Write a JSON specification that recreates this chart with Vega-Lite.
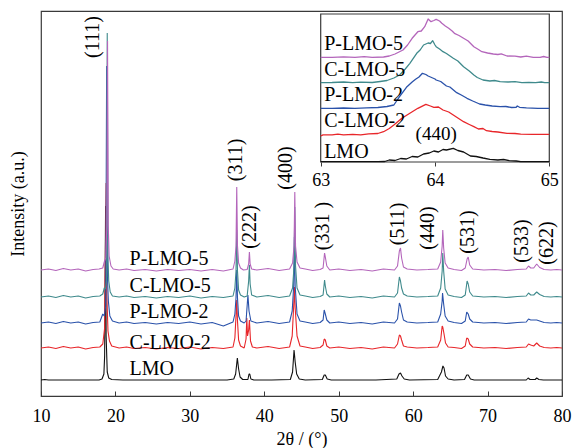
{
"$schema": "https://vega.github.io/schema/vega-lite/v6.json",
"width": 521, "height": 385,
"autosize": {"type": "none"},
"padding": {"left": 41, "top": 11, "right": 10, "bottom": 52},
"background": "white",
"config": {
  "font": "Liberation Serif",
  "view": {"stroke": "#3a3a3a", "strokeWidth": 1.2},
  "axis": {"labelFont": "Liberation Serif", "labelFontSize": 18, "labelColor": "black", "titleFont": "Liberation Serif", "titleFontSize": 18, "titleFontWeight": "normal", "titleColor": "black", "tickColor": "#3a3a3a", "grid": false, "labelFlush": false, "labelOverlap": false}
},
"datasets": {
"main": [
{"s":"LMO","x":10,"y":16},{"s":"LMO","x":10.5,"y":16.5},{"s":"LMO","x":11,"y":16},{"s":"LMO","x":12,"y":16},{"s":"LMO","x":14,"y":16},{"s":"LMO","x":16,"y":16},{"s":"LMO","x":17.8,"y":16},{"s":"LMO","x":18.2,"y":17},{"s":"LMO","x":18.45,"y":22},{"s":"LMO","x":18.55,"y":40},{"s":"LMO","x":18.68,"y":190},{"s":"LMO","x":18.75,"y":60},{"s":"LMO","x":18.9,"y":24},{"s":"LMO","x":19.1,"y":18},{"s":"LMO","x":19.5,"y":16.5},{"s":"LMO","x":21,"y":16},{"s":"LMO","x":25,"y":16},{"s":"LMO","x":30,"y":16},{"s":"LMO","x":35,"y":16},{"s":"LMO","x":35.9,"y":17},{"s":"LMO","x":36.15,"y":22},{"s":"LMO","x":36.38,"y":38},{"s":"LMO","x":36.55,"y":27},{"s":"LMO","x":36.75,"y":19},{"s":"LMO","x":37.1,"y":16.5},{"s":"LMO","x":37.8,"y":16.5},{"s":"LMO","x":37.95,"y":22},{"s":"LMO","x":38.05,"y":22},{"s":"LMO","x":38.2,"y":17},{"s":"LMO","x":38.6,"y":16},{"s":"LMO","x":41,"y":16},{"s":"LMO","x":43.5,"y":16.5},{"s":"LMO","x":43.8,"y":24},{"s":"LMO","x":44.0,"y":46},{"s":"LMO","x":44.15,"y":34},{"s":"LMO","x":44.35,"y":22},{"s":"LMO","x":44.7,"y":17},{"s":"LMO","x":45.5,"y":16},{"s":"LMO","x":47.8,"y":16.5},{"s":"LMO","x":48.05,"y":21},{"s":"LMO","x":48.2,"y":21},{"s":"LMO","x":48.45,"y":17},{"s":"LMO","x":49,"y":16},{"s":"LMO","x":55,"y":16},{"s":"LMO","x":57.8,"y":17},{"s":"LMO","x":58.1,"y":22},{"s":"LMO","x":58.3,"y":23},{"s":"LMO","x":58.5,"y":20},{"s":"LMO","x":58.8,"y":17},{"s":"LMO","x":59.5,"y":16},{"s":"LMO","x":63.3,"y":16.5},{"s":"LMO","x":63.8,"y":24},{"s":"LMO","x":64.0,"y":30},{"s":"LMO","x":64.15,"y":28},{"s":"LMO","x":64.35,"y":20},{"s":"LMO","x":64.7,"y":17},{"s":"LMO","x":65.5,"y":16},{"s":"LMO","x":66.9,"y":16.5},{"s":"LMO","x":67.2,"y":21},{"s":"LMO","x":67.4,"y":21},{"s":"LMO","x":67.7,"y":17},{"s":"LMO","x":68.2,"y":16},{"s":"LMO","x":75.2,"y":16},{"s":"LMO","x":75.45,"y":18},{"s":"LMO","x":75.7,"y":16.5},{"s":"LMO","x":76.4,"y":16.5},{"s":"LMO","x":76.6,"y":18},{"s":"LMO","x":76.9,"y":16.5},{"s":"LMO","x":77.5,"y":16},{"s":"LMO","x":80,"y":16},

{"s":"C2","x":10,"y":48},{"s":"C2","x":11,"y":49},{"s":"C2","x":12,"y":47.5},{"s":"C2","x":13,"y":49.5},{"s":"C2","x":14,"y":48},{"s":"C2","x":15,"y":49},{"s":"C2","x":16,"y":47},{"s":"C2","x":17,"y":48.5},{"s":"C2","x":17.9,"y":49},{"s":"C2","x":18.3,"y":52},{"s":"C2","x":18.55,"y":68},{"s":"C2","x":18.75,"y":213},{"s":"C2","x":18.85,"y":100},{"s":"C2","x":19.0,"y":65},{"s":"C2","x":19.2,"y":55},{"s":"C2","x":19.5,"y":50},{"s":"C2","x":20.5,"y":48},{"s":"C2","x":21.5,"y":49},{"s":"C2","x":22.5,"y":47.5},{"s":"C2","x":24,"y":48.5},{"s":"C2","x":25.5,"y":47},{"s":"C2","x":27,"y":48.5},{"s":"C2","x":28.5,"y":47.5},{"s":"C2","x":30,"y":49},{"s":"C2","x":31.5,"y":47},{"s":"C2","x":33,"y":48.5},{"s":"C2","x":34.5,"y":47.5},{"s":"C2","x":35.8,"y":49},{"s":"C2","x":36.05,"y":58},{"s":"C2","x":36.2,"y":80},{"s":"C2","x":36.3,"y":96},{"s":"C2","x":36.4,"y":75},{"s":"C2","x":36.55,"y":56},{"s":"C2","x":36.8,"y":50},{"s":"C2","x":37.3,"y":48},{"s":"C2","x":37.55,"y":57},{"s":"C2","x":37.65,"y":78},{"s":"C2","x":37.75,"y":60},{"s":"C2","x":37.9,"y":66},{"s":"C2","x":38.0,"y":76},{"s":"C2","x":38.15,"y":55},{"s":"C2","x":38.4,"y":49},{"s":"C2","x":39,"y":48},{"s":"C2","x":40.5,"y":49.5},{"s":"C2","x":42,"y":47.5},{"s":"C2","x":43.4,"y":49},{"s":"C2","x":43.75,"y":60},{"s":"C2","x":43.95,"y":90},{"s":"C2","x":44.05,"y":109},{"s":"C2","x":44.15,"y":88},{"s":"C2","x":44.4,"y":60},{"s":"C2","x":44.8,"y":50},{"s":"C2","x":45.5,"y":49},{"s":"C2","x":46.5,"y":47.5},{"s":"C2","x":47.5,"y":48.5},{"s":"C2","x":47.9,"y":51},{"s":"C2","x":48.05,"y":57},{"s":"C2","x":48.2,"y":56},{"s":"C2","x":48.4,"y":50},{"s":"C2","x":48.8,"y":48},{"s":"C2","x":50,"y":49},{"s":"C2","x":51.5,"y":47.5},{"s":"C2","x":53,"y":48.5},{"s":"C2","x":54.5,"y":47},{"s":"C2","x":56,"y":49},{"s":"C2","x":57.5,"y":48},{"s":"C2","x":57.9,"y":52},{"s":"C2","x":58.15,"y":61},{"s":"C2","x":58.3,"y":60},{"s":"C2","x":58.45,"y":56},{"s":"C2","x":58.7,"y":50},{"s":"C2","x":59.2,"y":49},{"s":"C2","x":60.5,"y":48},{"s":"C2","x":62,"y":48.5},{"s":"C2","x":63.3,"y":49},{"s":"C2","x":63.7,"y":56},{"s":"C2","x":63.9,"y":70},{"s":"C2","x":63.98,"y":69},{"s":"C2","x":64.15,"y":62},{"s":"C2","x":64.35,"y":53},{"s":"C2","x":64.7,"y":49},{"s":"C2","x":65.5,"y":48.5},{"s":"C2","x":66.5,"y":47.5},{"s":"C2","x":67.0,"y":50},{"s":"C2","x":67.2,"y":58},{"s":"C2","x":67.4,"y":57},{"s":"C2","x":67.6,"y":52},{"s":"C2","x":68,"y":49},{"s":"C2","x":69.5,"y":48},{"s":"C2","x":71,"y":48.5},{"s":"C2","x":72.5,"y":47.5},{"s":"C2","x":74,"y":48.5},{"s":"C2","x":75.2,"y":49},{"s":"C2","x":75.5,"y":52},{"s":"C2","x":75.8,"y":51},{"s":"C2","x":76.2,"y":50},{"s":"C2","x":76.6,"y":53},{"s":"C2","x":77,"y":50},{"s":"C2","x":77.6,"y":48.5},{"s":"C2","x":78.5,"y":48},{"s":"C2","x":79.3,"y":48.5},{"s":"C2","x":80,"y":48},

{"s":"P2","x":10,"y":73},{"s":"P2","x":11,"y":74},{"s":"P2","x":12,"y":72.5},{"s":"P2","x":13,"y":74.5},{"s":"P2","x":14,"y":73},{"s":"P2","x":15,"y":74},{"s":"P2","x":16,"y":72},{"s":"P2","x":17,"y":73.5},{"s":"P2","x":17.9,"y":74},{"s":"P2","x":18.3,"y":82},{"s":"P2","x":18.5,"y":80},{"s":"P2","x":18.7,"y":90},{"s":"P2","x":18.82,"y":330},{"s":"P2","x":18.92,"y":120},{"s":"P2","x":19.05,"y":95},{"s":"P2","x":19.25,"y":80},{"s":"P2","x":19.6,"y":75},{"s":"P2","x":20.5,"y":73},{"s":"P2","x":21.5,"y":74},{"s":"P2","x":22.5,"y":72.5},{"s":"P2","x":24,"y":73.5},{"s":"P2","x":25.5,"y":72},{"s":"P2","x":27,"y":73.5},{"s":"P2","x":28.5,"y":72.5},{"s":"P2","x":30,"y":74},{"s":"P2","x":31.5,"y":72},{"s":"P2","x":33,"y":73.5},{"s":"P2","x":34.5,"y":70},{"s":"P2","x":35.8,"y":74},{"s":"P2","x":36.05,"y":82},{"s":"P2","x":36.2,"y":98},{"s":"P2","x":36.3,"y":126},{"s":"P2","x":36.4,"y":98},{"s":"P2","x":36.55,"y":80},{"s":"P2","x":36.8,"y":75},{"s":"P2","x":37.3,"y":73},{"s":"P2","x":37.55,"y":75},{"s":"P2","x":37.8,"y":101},{"s":"P2","x":37.95,"y":85},{"s":"P2","x":38.2,"y":75},{"s":"P2","x":39,"y":73},{"s":"P2","x":40.5,"y":74.5},{"s":"P2","x":42,"y":72.5},{"s":"P2","x":43.4,"y":74},{"s":"P2","x":43.75,"y":85},{"s":"P2","x":43.95,"y":110},{"s":"P2","x":44.05,"y":159},{"s":"P2","x":44.15,"y":110},{"s":"P2","x":44.4,"y":82},{"s":"P2","x":44.8,"y":75},{"s":"P2","x":45.5,"y":74},{"s":"P2","x":46.5,"y":72.5},{"s":"P2","x":47.5,"y":73.5},{"s":"P2","x":47.9,"y":76},{"s":"P2","x":48.05,"y":86},{"s":"P2","x":48.2,"y":82},{"s":"P2","x":48.4,"y":76},{"s":"P2","x":48.8,"y":73},{"s":"P2","x":50,"y":74},{"s":"P2","x":51.5,"y":72.5},{"s":"P2","x":53,"y":73.5},{"s":"P2","x":54.5,"y":72},{"s":"P2","x":56,"y":74},{"s":"P2","x":57.5,"y":73},{"s":"P2","x":57.9,"y":77},{"s":"P2","x":58.15,"y":93},{"s":"P2","x":58.3,"y":90},{"s":"P2","x":58.45,"y":84},{"s":"P2","x":58.7,"y":76},{"s":"P2","x":59.2,"y":74},{"s":"P2","x":60.5,"y":73},{"s":"P2","x":62,"y":73.5},{"s":"P2","x":63.3,"y":74},{"s":"P2","x":63.7,"y":82},{"s":"P2","x":63.9,"y":95},{"s":"P2","x":63.95,"y":103},{"s":"P2","x":64.1,"y":92},{"s":"P2","x":64.3,"y":80},{"s":"P2","x":64.7,"y":75},{"s":"P2","x":65.5,"y":73.5},{"s":"P2","x":66.5,"y":72.5},{"s":"P2","x":67.0,"y":75},{"s":"P2","x":67.2,"y":84},{"s":"P2","x":67.4,"y":82},{"s":"P2","x":67.6,"y":77},{"s":"P2","x":68,"y":74},{"s":"P2","x":69.5,"y":73},{"s":"P2","x":71,"y":73.5},{"s":"P2","x":72.5,"y":72.5},{"s":"P2","x":74,"y":73.5},{"s":"P2","x":75.2,"y":74},{"s":"P2","x":75.5,"y":77},{"s":"P2","x":75.8,"y":76},{"s":"P2","x":76.2,"y":76},{"s":"P2","x":76.6,"y":76},{"s":"P2","x":77,"y":75},{"s":"P2","x":77.6,"y":73.5},{"s":"P2","x":78.5,"y":73},{"s":"P2","x":79.3,"y":73.5},{"s":"P2","x":80,"y":73},

{"s":"C5","x":10,"y":99},{"s":"C5","x":11,"y":100},{"s":"C5","x":12,"y":98.5},{"s":"C5","x":13,"y":100.5},{"s":"C5","x":14,"y":99},{"s":"C5","x":15,"y":100},{"s":"C5","x":16,"y":98},{"s":"C5","x":17,"y":99.5},{"s":"C5","x":17.9,"y":100},{"s":"C5","x":18.3,"y":102},{"s":"C5","x":18.5,"y":108},{"s":"C5","x":18.65,"y":107},{"s":"C5","x":18.8,"y":115},{"s":"C5","x":18.9,"y":363},{"s":"C5","x":19.0,"y":140},{"s":"C5","x":19.1,"y":115},{"s":"C5","x":19.3,"y":104},{"s":"C5","x":19.6,"y":100},{"s":"C5","x":20.5,"y":99},{"s":"C5","x":21.5,"y":100},{"s":"C5","x":22.5,"y":98.5},{"s":"C5","x":24,"y":99.5},{"s":"C5","x":25.5,"y":98},{"s":"C5","x":27,"y":99.5},{"s":"C5","x":28.5,"y":98.5},{"s":"C5","x":30,"y":100},{"s":"C5","x":31.5,"y":98},{"s":"C5","x":33,"y":99.5},{"s":"C5","x":34.5,"y":98.5},{"s":"C5","x":35.8,"y":100},{"s":"C5","x":36.05,"y":108},{"s":"C5","x":36.2,"y":125},{"s":"C5","x":36.3,"y":166},{"s":"C5","x":36.4,"y":125},{"s":"C5","x":36.55,"y":106},{"s":"C5","x":36.8,"y":101},{"s":"C5","x":37.3,"y":99},{"s":"C5","x":37.7,"y":100},{"s":"C5","x":37.9,"y":115},{"s":"C5","x":38.0,"y":131},{"s":"C5","x":38.1,"y":112},{"s":"C5","x":38.3,"y":101},{"s":"C5","x":39,"y":99},{"s":"C5","x":40.5,"y":100.5},{"s":"C5","x":42,"y":98.5},{"s":"C5","x":43.4,"y":100},{"s":"C5","x":43.8,"y":108},{"s":"C5","x":44.0,"y":130},{"s":"C5","x":44.1,"y":189},{"s":"C5","x":44.2,"y":130},{"s":"C5","x":44.4,"y":108},{"s":"C5","x":44.8,"y":101},{"s":"C5","x":45.5,"y":100},{"s":"C5","x":46.5,"y":98.5},{"s":"C5","x":47.5,"y":99.5},{"s":"C5","x":47.9,"y":101},{"s":"C5","x":48.1,"y":116},{"s":"C5","x":48.2,"y":110},{"s":"C5","x":48.4,"y":102},{"s":"C5","x":48.8,"y":99},{"s":"C5","x":50,"y":100},{"s":"C5","x":51.5,"y":98.5},{"s":"C5","x":53,"y":99.5},{"s":"C5","x":54.5,"y":98},{"s":"C5","x":56,"y":100},{"s":"C5","x":57.5,"y":99},{"s":"C5","x":57.9,"y":103},{"s":"C5","x":58.15,"y":119},{"s":"C5","x":58.3,"y":115},{"s":"C5","x":58.45,"y":108},{"s":"C5","x":58.7,"y":102},{"s":"C5","x":59.2,"y":100},{"s":"C5","x":60.5,"y":99},{"s":"C5","x":62,"y":99.5},{"s":"C5","x":63.3,"y":100},{"s":"C5","x":63.7,"y":108},{"s":"C5","x":63.9,"y":125},{"s":"C5","x":63.98,"y":143},{"s":"C5","x":64.1,"y":125},{"s":"C5","x":64.3,"y":107},{"s":"C5","x":64.7,"y":101},{"s":"C5","x":65.5,"y":99.5},{"s":"C5","x":66.5,"y":98.5},{"s":"C5","x":67.0,"y":101},{"s":"C5","x":67.25,"y":115},{"s":"C5","x":67.4,"y":112},{"s":"C5","x":67.6,"y":104},{"s":"C5","x":68,"y":100},{"s":"C5","x":69.5,"y":99},{"s":"C5","x":71,"y":99.5},{"s":"C5","x":72.5,"y":98.5},{"s":"C5","x":74,"y":99.5},{"s":"C5","x":75.2,"y":100},{"s":"C5","x":75.5,"y":103},{"s":"C5","x":75.8,"y":101},{"s":"C5","x":76.2,"y":101},{"s":"C5","x":76.6,"y":104},{"s":"C5","x":77,"y":101.5},{"s":"C5","x":77.6,"y":99.5},{"s":"C5","x":78.5,"y":99},{"s":"C5","x":79.3,"y":99.5},{"s":"C5","x":80,"y":99},

{"s":"P5","x":10,"y":126},{"s":"P5","x":11,"y":127},{"s":"P5","x":12,"y":125.5},{"s":"P5","x":13,"y":127.5},{"s":"P5","x":14,"y":126},{"s":"P5","x":15,"y":127},{"s":"P5","x":16,"y":125},{"s":"P5","x":17,"y":126.5},{"s":"P5","x":17.8,"y":127},{"s":"P5","x":18.3,"y":128},{"s":"P5","x":18.5,"y":134},{"s":"P5","x":18.7,"y":138},{"s":"P5","x":18.84,"y":170},{"s":"P5","x":18.94,"y":355},{"s":"P5","x":19.04,"y":170},{"s":"P5","x":19.15,"y":140},{"s":"P5","x":19.4,"y":130},{"s":"P5","x":19.7,"y":127},{"s":"P5","x":20.5,"y":126},{"s":"P5","x":21.5,"y":127},{"s":"P5","x":22.5,"y":125.5},{"s":"P5","x":24,"y":126.5},{"s":"P5","x":25.5,"y":125},{"s":"P5","x":27,"y":126.5},{"s":"P5","x":28.5,"y":125.5},{"s":"P5","x":30,"y":126.5},{"s":"P5","x":31.5,"y":125},{"s":"P5","x":33,"y":126.5},{"s":"P5","x":34.5,"y":125},{"s":"P5","x":35.8,"y":127},{"s":"P5","x":36.05,"y":135},{"s":"P5","x":36.2,"y":150},{"s":"P5","x":36.3,"y":209},{"s":"P5","x":36.4,"y":150},{"s":"P5","x":36.55,"y":133},{"s":"P5","x":36.8,"y":128},{"s":"P5","x":37.2,"y":126},{"s":"P5","x":37.7,"y":126.5},{"s":"P5","x":37.9,"y":132},{"s":"P5","x":38.0,"y":144},{"s":"P5","x":38.1,"y":132},{"s":"P5","x":38.3,"y":127},{"s":"P5","x":39,"y":126},{"s":"P5","x":40.5,"y":127.5},{"s":"P5","x":42,"y":125.5},{"s":"P5","x":43.4,"y":127},{"s":"P5","x":43.8,"y":133},{"s":"P5","x":44.0,"y":150},{"s":"P5","x":44.1,"y":204},{"s":"P5","x":44.2,"y":150},{"s":"P5","x":44.4,"y":134},{"s":"P5","x":44.8,"y":128},{"s":"P5","x":45.5,"y":127},{"s":"P5","x":46.5,"y":125.5},{"s":"P5","x":47.5,"y":126.5},{"s":"P5","x":47.9,"y":128},{"s":"P5","x":48.1,"y":143},{"s":"P5","x":48.2,"y":139},{"s":"P5","x":48.4,"y":130},{"s":"P5","x":48.8,"y":126},{"s":"P5","x":50,"y":127},{"s":"P5","x":51.5,"y":125.5},{"s":"P5","x":53,"y":126.5},{"s":"P5","x":54.5,"y":125},{"s":"P5","x":56,"y":127},{"s":"P5","x":57.5,"y":126},{"s":"P5","x":57.9,"y":130},{"s":"P5","x":58.15,"y":145},{"s":"P5","x":58.3,"y":148},{"s":"P5","x":58.45,"y":138},{"s":"P5","x":58.7,"y":129},{"s":"P5","x":59.2,"y":127},{"s":"P5","x":60.5,"y":126},{"s":"P5","x":62,"y":126.5},{"s":"P5","x":63.3,"y":127},{"s":"P5","x":63.7,"y":134},{"s":"P5","x":63.9,"y":150},{"s":"P5","x":63.98,"y":166},{"s":"P5","x":64.1,"y":148},{"s":"P5","x":64.3,"y":133},{"s":"P5","x":64.7,"y":128},{"s":"P5","x":65.5,"y":126.5},{"s":"P5","x":66.5,"y":125.5},{"s":"P5","x":67.0,"y":128},{"s":"P5","x":67.25,"y":137},{"s":"P5","x":67.4,"y":139},{"s":"P5","x":67.6,"y":131},{"s":"P5","x":68,"y":127},{"s":"P5","x":69.5,"y":126},{"s":"P5","x":71,"y":126.5},{"s":"P5","x":72.5,"y":125.5},{"s":"P5","x":74,"y":126.5},{"s":"P5","x":75.2,"y":127},{"s":"P5","x":75.5,"y":130},{"s":"P5","x":75.8,"y":128},{"s":"P5","x":76.2,"y":128},{"s":"P5","x":76.6,"y":132},{"s":"P5","x":77,"y":128.5},{"s":"P5","x":77.6,"y":126.5},{"s":"P5","x":78.5,"y":126},{"s":"P5","x":79.3,"y":126.5},{"s":"P5","x":80,"y":126}
],
"inset": [
{"s":"LMO","x":63.0,"y":0.3},{"s":"LMO","x":63.5,"y":0.3},{"s":"LMO","x":63.56,"y":0.5},{"s":"LMO","x":63.6,"y":2},{"s":"LMO","x":63.65,"y":1.5},{"s":"LMO","x":63.7,"y":3.5},{"s":"LMO","x":63.75,"y":3},{"s":"LMO","x":63.8,"y":5.5},{"s":"LMO","x":63.85,"y":5},{"s":"LMO","x":63.9,"y":8},{"s":"LMO","x":63.95,"y":9},{"s":"LMO","x":63.99,"y":11},{"s":"LMO","x":64.03,"y":10},{"s":"LMO","x":64.07,"y":12.5},{"s":"LMO","x":64.1,"y":12},{"s":"LMO","x":64.16,"y":13.7},{"s":"LMO","x":64.2,"y":11.5},{"s":"LMO","x":64.25,"y":10},{"s":"LMO","x":64.31,"y":6},{"s":"LMO","x":64.36,"y":5.5},{"s":"LMO","x":64.42,"y":4},{"s":"LMO","x":64.48,"y":2.7},{"s":"LMO","x":64.55,"y":2},{"s":"LMO","x":64.6,"y":2.5},{"s":"LMO","x":64.65,"y":1.3},{"s":"LMO","x":64.71,"y":1},{"s":"LMO","x":64.75,"y":0.3},{"s":"LMO","x":65.0,"y":0.3},

{"s":"C2","x":63.0,"y":26},{"s":"C2","x":63.02,"y":27.2},{"s":"C2","x":63.1,"y":27.2},{"s":"C2","x":63.15,"y":27.8},{"s":"C2","x":63.2,"y":27.2},{"s":"C2","x":63.28,"y":27.7},{"s":"C2","x":63.35,"y":27.2},{"s":"C2","x":63.42,"y":28.2},{"s":"C2","x":63.5,"y":28.5},{"s":"C2","x":63.55,"y":30.3},{"s":"C2","x":63.6,"y":33.5},{"s":"C2","x":63.64,"y":37},{"s":"C2","x":63.71,"y":43.7},{"s":"C2","x":63.78,"y":48.7},{"s":"C2","x":63.85,"y":53.7},{"s":"C2","x":63.92,"y":57.7},{"s":"C2","x":63.96,"y":56},{"s":"C2","x":63.99,"y":54.7},{"s":"C2","x":64.03,"y":55},{"s":"C2","x":64.07,"y":52},{"s":"C2","x":64.12,"y":50},{"s":"C2","x":64.16,"y":47},{"s":"C2","x":64.2,"y":44},{"s":"C2","x":64.25,"y":40.3},{"s":"C2","x":64.3,"y":37.5},{"s":"C2","x":64.34,"y":35.3},{"s":"C2","x":64.38,"y":33},{"s":"C2","x":64.42,"y":33.5},{"s":"C2","x":64.45,"y":31.3},{"s":"C2","x":64.5,"y":30.5},{"s":"C2","x":64.55,"y":30},{"s":"C2","x":64.63,"y":28.7},{"s":"C2","x":64.7,"y":28.5},{"s":"C2","x":64.75,"y":27.8},{"s":"C2","x":64.85,"y":27.7},{"s":"C2","x":64.95,"y":27.7},{"s":"C2","x":65.0,"y":27.7},

{"s":"P2","x":63.0,"y":53.7},{"s":"P2","x":63.1,"y":53.7},{"s":"P2","x":63.2,"y":54},{"s":"P2","x":63.3,"y":53.7},{"s":"P2","x":63.4,"y":54.2},{"s":"P2","x":63.5,"y":54.5},{"s":"P2","x":63.58,"y":55.5},{"s":"P2","x":63.64,"y":57},{"s":"P2","x":63.69,"y":65.3},{"s":"P2","x":63.75,"y":74.7},{"s":"P2","x":63.8,"y":80},{"s":"P2","x":63.83,"y":82.7},{"s":"P2","x":63.86,"y":85},{"s":"P2","x":63.89,"y":88.7},{"s":"P2","x":63.92,"y":87.5},{"s":"P2","x":63.94,"y":86},{"s":"P2","x":63.97,"y":84.5},{"s":"P2","x":64.0,"y":83},{"s":"P2","x":64.01,"y":82},{"s":"P2","x":64.05,"y":80.5},{"s":"P2","x":64.1,"y":76},{"s":"P2","x":64.13,"y":75},{"s":"P2","x":64.19,"y":69.3},{"s":"P2","x":64.23,"y":67},{"s":"P2","x":64.28,"y":63.7},{"s":"P2","x":64.33,"y":61},{"s":"P2","x":64.39,"y":58},{"s":"P2","x":64.44,"y":57},{"s":"P2","x":64.5,"y":56},{"s":"P2","x":64.57,"y":55.3},{"s":"P2","x":64.62,"y":55.5},{"s":"P2","x":64.67,"y":54.5},{"s":"P2","x":64.71,"y":54.7},{"s":"P2","x":64.72,"y":56},{"s":"P2","x":64.74,"y":54.7},{"s":"P2","x":64.8,"y":54.2},{"s":"P2","x":64.9,"y":53.7},{"s":"P2","x":65.0,"y":53.7},

{"s":"C5","x":63.0,"y":79.3},{"s":"C5","x":63.1,"y":79.5},{"s":"C5","x":63.2,"y":80},{"s":"C5","x":63.28,"y":79.3},{"s":"C5","x":63.35,"y":79.8},{"s":"C5","x":63.45,"y":79.5},{"s":"C5","x":63.52,"y":80.5},{"s":"C5","x":63.58,"y":81.5},{"s":"C5","x":63.64,"y":84},{"s":"C5","x":63.69,"y":87},{"s":"C5","x":63.74,"y":93},{"s":"C5","x":63.78,"y":98.7},{"s":"C5","x":63.84,"y":108.7},{"s":"C5","x":63.87,"y":112},{"s":"C5","x":63.9,"y":117},{"s":"C5","x":63.94,"y":119},{"s":"C5","x":63.96,"y":118.5},{"s":"C5","x":63.98,"y":121.3},{"s":"C5","x":64.0,"y":117},{"s":"C5","x":64.01,"y":115.3},{"s":"C5","x":64.04,"y":113},{"s":"C5","x":64.07,"y":110.3},{"s":"C5","x":64.1,"y":108.5},{"s":"C5","x":64.16,"y":103.7},{"s":"C5","x":64.2,"y":101},{"s":"C5","x":64.25,"y":95.3},{"s":"C5","x":64.3,"y":91},{"s":"C5","x":64.34,"y":87},{"s":"C5","x":64.37,"y":84.5},{"s":"C5","x":64.42,"y":82},{"s":"C5","x":64.48,"y":81},{"s":"C5","x":64.52,"y":81.5},{"s":"C5","x":64.57,"y":80.3},{"s":"C5","x":64.64,"y":80},{"s":"C5","x":64.7,"y":80.3},{"s":"C5","x":64.76,"y":79.3},{"s":"C5","x":64.82,"y":79.7},{"s":"C5","x":64.88,"y":79.3},{"s":"C5","x":64.93,"y":80},{"s":"C5","x":64.96,"y":79.3},{"s":"C5","x":65.0,"y":79.3},

{"s":"P5","x":63.0,"y":104.7},{"s":"P5","x":63.1,"y":104.7},{"s":"P5","x":63.2,"y":105.2},{"s":"P5","x":63.3,"y":104.7},{"s":"P5","x":63.38,"y":105.3},{"s":"P5","x":63.45,"y":104.7},{"s":"P5","x":63.55,"y":105},{"s":"P5","x":63.6,"y":106},{"s":"P5","x":63.65,"y":108},{"s":"P5","x":63.72,"y":112},{"s":"P5","x":63.76,"y":117},{"s":"P5","x":63.8,"y":123.7},{"s":"P5","x":63.85,"y":130.3},{"s":"P5","x":63.88,"y":131},{"s":"P5","x":63.91,"y":135.3},{"s":"P5","x":63.94,"y":143},{"s":"P5","x":63.965,"y":140.3},{"s":"P5","x":63.99,"y":141.5},{"s":"P5","x":64.01,"y":142.7},{"s":"P5","x":64.04,"y":141},{"s":"P5","x":64.06,"y":138.7},{"s":"P5","x":64.09,"y":136},{"s":"P5","x":64.12,"y":133.7},{"s":"P5","x":64.15,"y":131},{"s":"P5","x":64.17,"y":128.7},{"s":"P5","x":64.21,"y":126.5},{"s":"P5","x":64.25,"y":123.7},{"s":"P5","x":64.29,"y":121},{"s":"P5","x":64.34,"y":115.3},{"s":"P5","x":64.38,"y":112.5},{"s":"P5","x":64.41,"y":110.3},{"s":"P5","x":64.46,"y":109},{"s":"P5","x":64.51,"y":108},{"s":"P5","x":64.55,"y":107.5},{"s":"P5","x":64.58,"y":108.2},{"s":"P5","x":64.63,"y":106},{"s":"P5","x":64.7,"y":105.8},{"s":"P5","x":64.75,"y":105},{"s":"P5","x":64.8,"y":105.8},{"s":"P5","x":64.86,"y":104.7},{"s":"P5","x":64.92,"y":104.7},{"s":"P5","x":64.95,"y":105.5},{"s":"P5","x":64.98,"y":104.7},{"s":"P5","x":65.0,"y":104.7}
],
"mainlab": [
{"t":"LMO","x":21.9,"y":21},{"t":"C-LMO-2","x":21.9,"y":47},{"t":"P-LMO-2","x":21.9,"y":78},{"t":"C-LMO-5","x":21.9,"y":104},{"t":"P-LMO-5","x":21.9,"y":131}
],
"peaks": [
{"t":"(111)","x":17.0,"y":359},{"t":"(311)","x":36.17,"y":236},{"t":"(222)","x":38.09,"y":169},{"t":"(400)","x":42.93,"y":228},{"t":"(331 )","x":47.9,"y":170},{"t":"(511)","x":57.98,"y":172},{"t":"(440)","x":62.02,"y":168},{"t":"(531)","x":67.39,"y":164},{"t":"(533)","x":74.65,"y":155},{"t":"(622)","x":78.01,"y":153}
],
"insetlab": [
{"t":"LMO","x":63.03,"y":3.7},{"t":"C-LMO-2","x":63.03,"y":35.3},{"t":"P-LMO-2","x":63.03,"y":61},{"t":"C-LMO-5","x":63.03,"y":86},{"t":"P-LMO-5","x":63.03,"y":112.5}
]
},
"layer": [
 {"layer": [
  {"data": {"name": "main"},
   "mark": {"type": "line", "strokeWidth": 1.1, "strokeJoin": "bevel"},
   "encoding": {
    "x": {"field": "x", "type": "quantitative", "scale": {"domain": [10, 80], "nice": false, "zero": false},
          "axis": {"values": [10,20,30,40,50,60,70,80], "domain": false, "tickSize": -5, "labelPadding": 16, "title": "2θ / (°)", "titleBaseline": "alphabetic", "titleY": 48, "titleX": 260.5}},
    "y": {"field": "y", "type": "quantitative", "scale": {"domain": [0, 385], "nice": false, "zero": false},
          "axis": {"ticks": false, "labels": false, "domain": false, "title": "Intensity (a.u.)", "titleX": -23, "titleY": 192.5, "titleBaseline": "middle", "titleAngle": 270}},
    "color": {"field": "s", "type": "nominal", "scale": {"domain": ["LMO","C2","P2","C5","P5"], "range": ["#111111","#e8262a","#2a52aa","#3f8a8c","#b466bb"]}, "legend": null}
   }},
  {"data": {"name": "mainlab"},
   "mark": {"type": "text", "align": "left", "baseline": "alphabetic", "fontSize": 20, "color": "black"},
   "encoding": {
    "x": {"field": "x", "type": "quantitative"},
    "y": {"field": "y", "type": "quantitative"},
    "text": {"field": "t"}
   }},
  {"data": {"name": "peaks"},
   "mark": {"type": "text", "align": "center", "baseline": "middle", "angle": 270, "fontSize": 20, "color": "black"},
   "encoding": {
    "x": {"field": "x", "type": "quantitative"},
    "y": {"field": "y", "type": "quantitative"},
    "text": {"field": "t"}
   }}
 ]},
 {"layer": [
  {"data": {"values": [{}]},
   "mark": {"type": "rect", "fill": "white", "stroke": "#3a3a3a", "strokeWidth": 1.2},
   "encoding": {
    "x": {"datum": 63, "type": "quantitative", "scale": {"domain": [63, 65], "range": [279.7, 508.3], "nice": false, "zero": false},
          "axis": {"orient": "bottom", "offset": -234, "values": [63, 64, 65], "labelExpr": "round(datum.value)", "labelOverlap": false, "labelBound": false, "domain": false, "tickSize": 4, "labelPadding": 5, "title": null}},
    "x2": {"datum": 65},
    "y": {"datum": 0, "type": "quantitative", "scale": {"domain": [0, 148], "range": [151, 3], "nice": false, "zero": false}, "axis": null},
    "y2": {"datum": 148}
   }},
  {"data": {"name": "inset"},
   "mark": {"type": "line", "strokeWidth": 1.3, "strokeJoin": "round"},
   "encoding": {
    "x": {"field": "x", "type": "quantitative", "axis": {"orient": "bottom", "offset": -234, "values": [63, 64, 65], "labelExpr": "round(datum.value)", "labelOverlap": false, "labelBound": false, "domain": false, "tickSize": 4, "labelPadding": 5, "title": null}},
    "y": {"field": "y", "type": "quantitative", "axis": null},
    "color": {"field": "s", "type": "nominal", "legend": null}
   }},
  {"data": {"name": "insetlab"},
   "mark": {"type": "text", "align": "left", "baseline": "alphabetic", "fontSize": 20, "color": "black"},
   "encoding": {
    "x": {"field": "x", "type": "quantitative", "axis": {"orient": "bottom", "offset": -234, "values": [63, 64, 65], "labelExpr": "round(datum.value)", "labelOverlap": false, "labelBound": false, "domain": false, "tickSize": 4, "labelPadding": 5, "title": null}},
    "y": {"field": "y", "type": "quantitative", "axis": null},
    "text": {"field": "t"}
   }},
  {"data": {"values": [{"t": "(440)", "x": 64.01, "y": 22}]},
   "mark": {"type": "text", "align": "center", "baseline": "alphabetic", "fontSize": 19, "color": "black"},
   "encoding": {
    "x": {"field": "x", "type": "quantitative", "axis": {"orient": "bottom", "offset": -234, "values": [63, 64, 65], "labelExpr": "round(datum.value)", "labelOverlap": false, "labelBound": false, "domain": false, "tickSize": 4, "labelPadding": 5, "title": null}},
    "y": {"field": "y", "type": "quantitative", "axis": null},
    "text": {"field": "t"}
   }}
 ]}
],
"resolve": {"scale": {"x": "independent", "y": "independent"}, "axis": {"x": "independent", "y": "independent"}}
}
